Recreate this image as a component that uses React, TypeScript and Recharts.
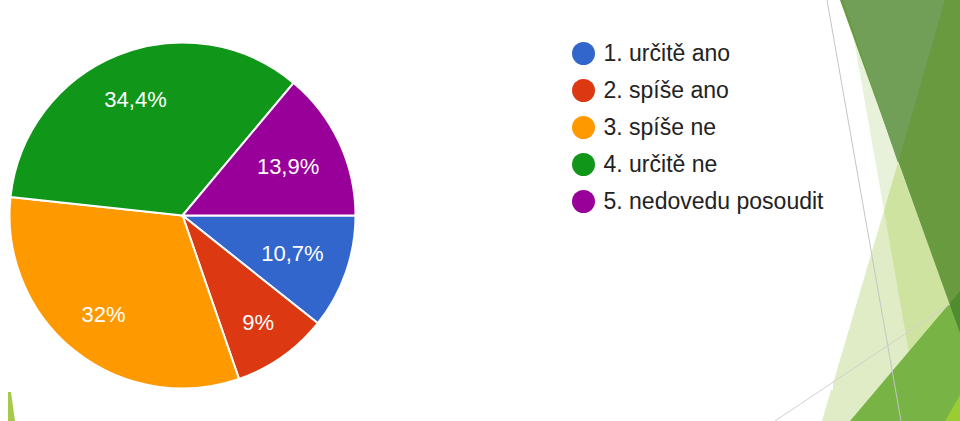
import { PieChart, Pie, Cell, Legend } from "recharts";

const CATEGORIES = [
  "1. určitě ano",
  "2. spíše ano",
  "3. spíše ne",
  "4. určitě ne",
  "5. nedovedu posoudit",
];
const VALUES = [10.7, 9, 32, 34.4, 13.9];
const COLORS = ["#3366cc", "#dc3912", "#ff9900", "#109618", "#990099"];

const chartData = CATEGORIES.map((name, i) => ({ name, value: VALUES[i] }));

const FONT = 'Arial, "Liberation Sans", sans-serif';
const LABEL_SIZE = 22;
const RADIAN = Math.PI / 180;

let ctx: CanvasRenderingContext2D | null = null;
function textWidth(s: string) {
  if (!ctx) ctx = document.createElement("canvas").getContext("2d");
  if (!ctx) return s.length * LABEL_SIZE * 0.55;
  ctx.font = `${LABEL_SIZE}px ${FONT}`;
  return ctx.measureText(s).width;
}

const fmt = (v: number) => `${String(v).replace(".", ",")}%`;

// label placed along the mid angle so the outer corner of its box sits inside the slice
function renderLabel(props: any) {
  const { cx, cy, midAngle, outerRadius, value } = props;
  const text = fmt(value);
  const ux = Math.cos(-midAngle * RADIAN);
  const uy = Math.sin(-midAngle * RADIAN);
  const a = (Math.sign(ux) * textWidth(text)) / 2;
  const b = (Math.sign(uy) * LABEL_SIZE) / 2;
  const lim = outerRadius * 0.864;
  const p = ux * a + uy * b;
  const t = -p + Math.sqrt(p * p - (a * a + b * b - lim * lim));
  return (
    <text
      x={cx + t * ux}
      y={cy + t * uy}
      fill="#ffffff"
      fontSize={LABEL_SIZE}
      fontFamily={FONT}
      textAnchor="middle"
      dominantBaseline="central"
    >
      {text}
    </text>
  );
}

function renderLegend(props: any) {
  const { payload } = props;
  return (
    <div style={{ fontFamily: FONT, fontSize: 23, color: "#222222" }}>
      {payload.map((entry: any, i: number) => (
        <div
          key={`leg-${i}`}
          style={{ display: "flex", alignItems: "center", height: 36.8 }}
        >
          <span
            style={{
              width: 23,
              height: 23,
              borderRadius: "50%",
              background: entry.color,
              marginRight: 8.5,
              flexShrink: 0,
            }}
          />
          <span style={{ whiteSpace: "nowrap" }}>{entry.value}</span>
        </div>
      ))}
    </div>
  );
}

function Backdrop() {
  return (
    <svg
      width={960}
      height={421}
      style={{ position: "absolute", left: 0, top: 0 }}
    >
      <defs>
        <clipPath id="clipA">
          <polygon points="822,421 898,163 960,330 960,421" />
        </clipPath>
        <clipPath id="clipD">
          <polygon points="840,0 960,0 960,333" />
        </clipPath>
      </defs>
      <rect x={0} y={0} width={960} height={421} fill="#ffffff" />
      <polygon points="847,0 960,0 960,421 921,421" fill="#e8f1da" />
      <polygon points="822,421 898,163 960,330 960,421" fill="#dfecc6" />
      <polygon
        points="847,0 960,0 960,421 921,421"
        fill="#cfe3a1"
        clipPath="url(#clipA)"
      />
      <polygon points="840,0 960,0 960,333" fill="#699a3f" />
      <polygon points="843,0 945,0 898,163" fill="#719f58" />
      <polygon points="850,421 960,291 960,421" fill="#78b445" />
      <polygon
        points="850,421 960,291 960,421"
        fill="#4f8c2d"
        clipPath="url(#clipD)"
      />
      <polygon points="945,421 960,395 960,421" fill="#9acd32" />
      <rect x={0} y={0} width={833} height={390} fill="#ffffff" />
      <polygon points="8,392 11,392 15,421 8,421" fill="#a6c94c" />
      <line x1={827} y1={0} x2={901} y2={421} stroke="#c4c4c4" strokeWidth={1} />
      <line x1={775} y1={421} x2={950} y2={304} stroke="#d0d0d0" strokeWidth={1} />
    </svg>
  );
}

export default function App() {
  return (
    <div
      style={{
        position: "absolute",
        left: 0,
        top: 0,
        width: 960,
        height: 421,
        overflow: "hidden",
      }}
    >
      <Backdrop />
      <div style={{ position: "absolute", left: 0, top: 0 }}>
        <PieChart
          width={960}
          height={421}
          margin={{ top: 0, right: 0, bottom: 0, left: 0 }}
        >
          <Pie
            data={chartData}
            dataKey="value"
            nameKey="name"
            cx={182.5}
            cy={215.5}
            outerRadius={173}
            startAngle={0}
            endAngle={-360}
            stroke="#ffffff"
            strokeWidth={2}
            labelLine={false}
            label={renderLabel}
            isAnimationActive={false}
          >
            {chartData.map((_, i) => (
              <Cell key={`cell-${i}`} fill={COLORS[i % COLORS.length]} />
            ))}
          </Pie>
          <Legend
            layout="vertical"
            align="right"
            verticalAlign="top"
            content={renderLegend}
            wrapperStyle={{ left: 572, top: 35.6, width: 300 }}
          />
        </PieChart>
      </div>
    </div>
  );
}
